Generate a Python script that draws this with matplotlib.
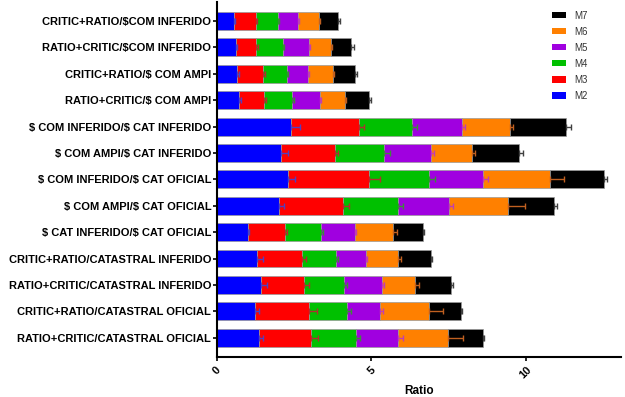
import matplotlib
matplotlib.use("Agg")
import matplotlib.pyplot as plt
import numpy as np

categories = [
    "CRITIC+RATIO/$COM INFERIDO",
    "RATIO+CRITIC/$COM INFERIDO",
    "CRITIC+RATIO/$ COM AMPI",
    "RATIO+CRITIC/$ COM AMPI",
    "$ COM INFERIDO/$ CAT INFERIDO",
    "$ COM AMPI/$ CAT INFERIDO",
    "$ COM INFERIDO/$ CAT OFICIAL",
    "$ COM AMPI/$ CAT OFICIAL",
    "$ CAT INFERIDO/$ CAT OFICIAL",
    "CRITIC+RATIO/CATASTRAL INFERIDO",
    "RATIO+CRITIC/CATASTRAL INFERIDO",
    "CRITIC+RATIO/CATASTRAL OFICIAL",
    "RATIO+CRITIC/CATASTRAL OFICIAL",
]
series = ["M2", "M3", "M4", "M5", "M6", "M7"]

M2 = [0.56, 0.61, 0.67, 0.71, 2.42, 2.09, 2.31, 2.02, 1.02, 1.29, 1.42, 1.24, 1.37]
M3 = [0.70, 0.67, 0.84, 0.83, 2.17, 1.74, 2.62, 2.06, 1.19, 1.46, 1.42, 1.76, 1.68]
M4 = [0.71, 0.86, 0.75, 0.90, 1.72, 1.58, 1.95, 1.79, 1.17, 1.10, 1.27, 1.23, 1.45]
M5 = [0.65, 0.84, 0.69, 0.90, 1.62, 1.53, 1.75, 1.65, 1.10, 0.97, 1.24, 1.07, 1.38]
M6 = [0.68, 0.71, 0.81, 0.81, 1.57, 1.32, 2.17, 1.92, 1.22, 1.06, 1.08, 1.56, 1.62]
M7 = [0.61, 0.67, 0.72, 0.77, 1.81, 1.53, 1.73, 1.49, 0.99, 1.04, 1.14, 1.04, 1.11]

M2_err = [0.04, 0.05, 0.05, 0.08, 0.28, 0.22, 0.21, 0.16, 0.03, 0.20, 0.20, 0.12, 0.14]
M3_err = [0.04, 0.05, 0.05, 0.05, 0.18, 0.08, 0.35, 0.19, 0.07, 0.14, 0.14, 0.24, 0.24]
M4_err = [0.04, 0.05, 0.05, 0.05, 0.16, 0.20, 0.18, 0.17, 0.05, 0.08, 0.10, 0.10, 0.14]
M5_err = [0.04, 0.05, 0.05, 0.05, 0.10, 0.10, 0.16, 0.14, 0.03, 0.05, 0.06, 0.09, 0.14]
M6_err = [0.04, 0.05, 0.05, 0.05, 0.10, 0.10, 0.44, 0.54, 0.13, 0.07, 0.11, 0.47, 0.48]
M7_err = [0.07, 0.08, 0.06, 0.08, 0.15, 0.13, 0.11, 0.09, 0.03, 0.06, 0.07, 0.04, 0.04]

values = [M2, M3, M4, M5, M6, M7]
errors = [M2_err, M3_err, M4_err, M5_err, M6_err, M7_err]
colors = ["#0000FF", "#FF0000", "#00C000", "#A000E0", "#FF8000", "#000000"]
err_colors = ["#5040C0", "#B03030", "#3C8A3C", "#C040B0", "#C06020", "#404040"]

plt.rcParams['font.family'] = ['Liberation Sans', 'DejaVu Sans']
plt.rcParams['text.parse_math'] = False

fig = plt.figure(figsize=(6.25, 3.97), dpi=100)
ax = fig.add_axes([0.3467, 0.1015, 0.6463, 0.8935])

y = np.arange(len(categories))
left = np.zeros(len(categories))
handles = []
ends = []
for vals, col, name in zip(values, colors, series):
    h = ax.barh(y, vals, left=left, height=0.68, color=col,
                edgecolor="#9a9a9a", linewidth=0.5, label=name, zorder=2)
    handles.append(h)
    left = left + np.array(vals)
    ends.append(left.copy())

for e, err, ecol in zip(ends, errors, err_colors):
    ax.errorbar(e, y, xerr=[np.zeros(len(err)), err], fmt="none",
                ecolor=ecol, elinewidth=1.0, capsize=2.5, capthick=1.0, zorder=3)

ax.set_ylim(12.72, -0.72)
ax.set_xlim(0, 13.07)
ax.set_yticks(y)
ax.set_yticklabels(categories, fontsize=8, fontweight="bold")
ax.set_xticks([0, 5, 10])
ax.set_xticklabels(["0", "5", "10"], rotation=45, fontsize=8,
                   fontweight="bold", ha="center", va="top")
ax.set_xlabel("Ratio", fontsize=8.5, fontweight="bold", labelpad=3)

for s in ["top", "right"]:
    ax.spines[s].set_visible(False)
for s in ["left", "bottom"]:
    ax.spines[s].set_linewidth(1.5)
ax.tick_params(axis="y", length=3, width=1.2, pad=1)
ax.tick_params(axis="x", length=3, width=1.2, pad=3)

leg = ax.legend(handles[::-1], series[::-1], loc="upper right",
                bbox_to_anchor=(0.94, 1.0), frameon=False, fontsize=7,
                handlelength=1.5, handleheight=0.6, labelspacing=0.62,
                handletextpad=0.8, labelcolor="#333333")
for p in leg.get_patches():
    p.set_edgecolor("none")

fig.savefig("out.png", dpi=100)
